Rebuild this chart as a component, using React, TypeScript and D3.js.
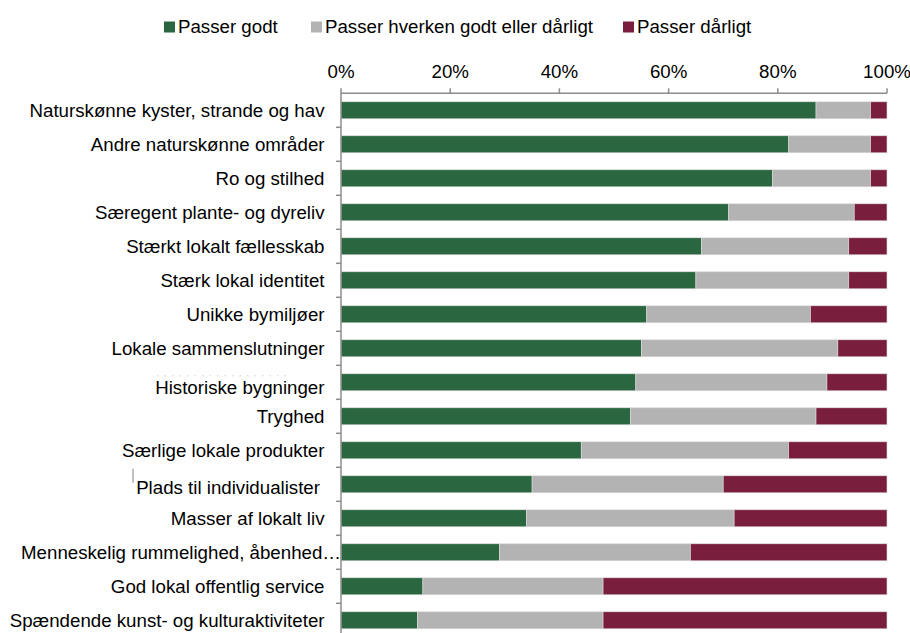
import React from "react";
import * as d3 from "d3";

const categories = [
  "Naturskønne kyster, strande og hav",
  "Andre naturskønne områder",
  "Ro og stilhed",
  "Særegent plante- og dyreliv",
  "Stærkt lokalt fællesskab",
  "Stærk lokal identitet",
  "Unikke bymiljøer",
  "Lokale sammenslutninger",
  "Historiske bygninger",
  "Tryghed",
  "Særlige lokale produkter",
  "Plads til individualister",
  "Masser af lokalt liv",
  "Menneskelig rummelighed, åbenhed…",
  "God lokal offentlig service",
  "Spændende kunst- og kulturaktiviteter",
];

const seriesNames = ["Passer godt", "Passer hverken godt eller dårligt", "Passer dårligt"];
const good = [87, 82, 79, 71, 66, 65, 56, 55, 54, 53, 44, 35, 34, 29, 15, 14];
const neutral = [10, 15, 18, 23, 27, 28, 30, 36, 35, 34, 38, 35, 38, 35, 33, 34];
const bad = [3, 3, 3, 6, 7, 7, 14, 9, 11, 13, 18, 30, 28, 36, 52, 52];
const tickValues = [0, 0.2, 0.4, 0.6, 0.8, 1];

const colors = ["#2A663F", "#B3B3B3", "#7A1E3D"];
const FONT = "'Liberation Sans', Arial, sans-serif";
const FS = 18.7;

export default function App() {
  const W = 910;
  const H = 633;
  const left = 341;
  const right = 887;
  const top = 93.3;
  const step = 34;

  const rows = categories.map((c, i) => ({ cat: c, good: good[i], neutral: neutral[i], bad: bad[i] }));
  const stack = d3.stack<any>().keys(["good", "neutral", "bad"]);
  const stacked = stack(rows);

  const x = d3.scaleLinear().domain([0, 100]).range([left, right]);
  const xt = d3.scaleLinear().domain([0, 1]).range([left, right]);
  const y = d3
    .scaleBand<string>()
    .domain(categories)
    .range([top, top + step * categories.length])
    .paddingInner(0.5)
    .paddingOuter(0.25);

  const fmt = d3.format(".0%");
  const axisColor = "#8c8c8c";

  const legendX = [164, 311, 623];

  const labelDy = (c: string) => {
    if (c === "Historiske bygninger") return 5.5;
    if (c === "Plads til individualister") return 3.5;
    return 0;
  };
  const labelX = (c: string) => {
    if (c === "Plads til individualister") return 320;
    if (c.startsWith("Menneskelig")) return 341;
    return 324.5;
  };

  const boundaries = d3.range(1, categories.length + 1).map((i) => top + i * step);

  return (
    <svg
      width={W}
      height={H}
      style={{ position: "absolute", left: 0, top: 0, background: "#fff" }}
      fontFamily={FONT}
    >
      {/* Legend */}
      {seriesNames.map((s, i) => (
        <g key={s}>
          <rect x={legendX[i]} y={21.5} width={11} height={11} fill={colors[i]} />
          <text x={legendX[i] + 14} y={33.3} fontSize={FS} fill="#000">
            {s}
          </text>
        </g>
      ))}

      {/* Top axis */}
      <line x1={left} x2={right} y1={top} y2={top} stroke={axisColor} strokeWidth={1.5} />
      {tickValues.map((t) => (
        <g key={t}>
          <line x1={xt(t)} x2={xt(t)} y1={top - 5} y2={top} stroke={axisColor} strokeWidth={1.5} />
          <text x={xt(t)} y={78} fontSize={FS} textAnchor="middle" fill="#000">
            {fmt(t)}
          </text>
        </g>
      ))}

      {/* Bars */}
      {stacked.map((layer, li) => (
        <g key={layer.key} fill={colors[li]}>
          {layer.map((d, i) => (
            <rect
              key={i}
              x={x(d[0])}
              y={y(categories[i])!}
              width={x(d[1]) - x(d[0])}
              height={y.bandwidth()}
              stroke="#dcdcdc"
              strokeWidth={0.6}
            />
          ))}
        </g>
      ))}

      {/* Left axis */}
      <line x1={left} x2={left} y1={top} y2={H} stroke={axisColor} strokeWidth={1.5} />
      {boundaries.map((b, i) => (
        <line key={i} x1={left - 5} x2={left} y1={b} y2={b} stroke={axisColor} strokeWidth={1.5} />
      ))}

      {/* Category labels */}
      {categories.map((c) => (
        <text
          key={c}
          x={labelX(c)}
          y={y(c)! + y.bandwidth() / 2 + labelDy(c)}
          dy="0.35em"
          fontSize={FS}
          textAnchor="end"
          fill="#000"
        >
          {c}
        </text>
      ))}

      {/* small artifacts from the original */}
      <line
        x1={157}
        x2={287}
        y1={y("Historiske bygninger")! + 2}
        y2={y("Historiske bygninger")! + 2}
        stroke="#cfcfcf"
        strokeWidth={1}
        strokeDasharray="1.5 6"
      />
      <line
        x1={133}
        x2={133}
        y1={y("Plads til individualister")! - 7}
        y2={y("Plads til individualister")! + 7}
        stroke="#666"
        strokeWidth={0.8}
      />
    </svg>
  );
}
